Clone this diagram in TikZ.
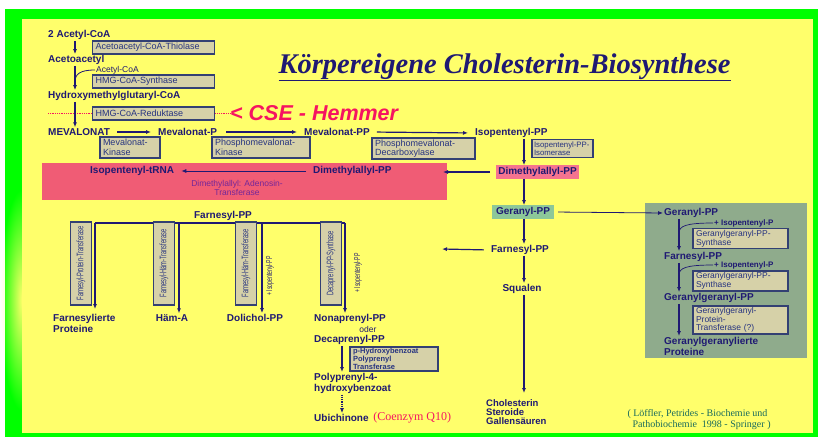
\documentclass[tikz,border=0pt]{standalone}
\usepackage{fontspec}
\usepackage{graphicx}
\setmainfont{Liberation Sans}
\newfontfamily\serifkopf{Liberation Serif}
\usetikzlibrary{arrows.meta, positioning, calc, fadings}
\definecolor{navy}{rgb}{0.12,0.1,0.45}
\definecolor{papiergelb}{rgb}{1,1,0.42}
\definecolor{rahmengruen}{rgb}{0,1,0}
\definecolor{enzfill}{rgb}{0.84,0.82,0.66}
\definecolor{enzrand}{rgb}{0.2,0.25,0.45}
\definecolor{enztext}{rgb}{0.15,0.2,0.5}
\definecolor{tRNArot}{rgb}{0.94,0.36,0.46}
\definecolor{dmapprot}{rgb}{0.96,0.45,0.56}
\definecolor{gppgruen}{rgb}{0.55,0.78,0.6}
\definecolor{feldgruen}{rgb}{0.56,0.67,0.55}
\definecolor{hemmrot}{rgb}{0.96,0.08,0.38}
\definecolor{transflila}{rgb}{0.45,0.15,0.6}
\definecolor{quellgruen}{rgb}{0.1,0.42,0.36}
\tikzfading[name=randfade, inner color=transparent!0, outer color=transparent!100]
\newcommand{\schmal}[1]{\scalebox{0.6}[1]{#1}}
\tikzset{
  mol/.style={font=\bfseries\fontsize{10}{11}\selectfont, text=navy, inner sep=1pt, align=left},
  klein/.style={font=\fontsize{8.5}{9}\selectfont, text=navy, inner sep=1pt},
  enz/.style={draw=enzrand, line width=1.2pt, fill=enzfill, text=enztext, font=\fontsize{9}{9.5}\selectfont, inner xsep=3pt, inner ysep=1.5pt, align=left},
  venz/.style={draw=enzrand, line width=1.2pt, fill=enzfill, text=enztext, rotate=90, font=\fontsize{9.5}{10}\selectfont, minimum width=83pt, minimum height=21pt, inner sep=0.5pt},
  vplus/.style={rotate=90, font=\fontsize{8.5}{8.5}\selectfont, text=navy, inner sep=0pt},
  pto/.style={-{Latex[length=5pt,width=4pt]}, line width=1.2pt, navy},
  alin/.style={line width=1.2pt, navy},
  hemm/.style={hemmrot, densely dotted, line width=0.8pt},
  hlrot/.style={mol, fill=dmapprot, inner sep=2pt},
  hlgruen/.style={mol, fill=gppgruen, inner xsep=4pt, inner ysep=2pt},
  titel/.style={font=\serifkopf\bfseries\itshape\fontsize{28.5}{30}\selectfont, text=navy},
  cse/.style={font=\bfseries\itshape\fontsize{21.5}{23}\selectfont, text=hemmrot, inner sep=0pt},
  quelle/.style={font=\serifkopf\fontsize{10}{10.5}\selectfont, text=quellgruen, align=left}
}

\begin{document}
\begin{tikzpicture}[x=1pt, y=-1pt]
  \useasboundingbox (0,0) rectangle (818,437);
  % Rahmen und Papier
  \fill[white] (0,0) rectangle (818,437);
  \fill[rahmengruen] (5,9) rectangle (818,437);
  \fill[papiergelb] (22,19) rectangle (813,433);
  \fill[papiergelb, path fading=randfade] (0,190) rectangle (44,410);

  \node[titel, anchor=base west] (titel) at (275,73) {\underline{Körpereigene Cholesterin-Biosynthese}};

  % Acetyl-CoA bis Mevalonat
  \coordinate (spalteA) at (75,0);
  \node[mol, anchor=west] (acetylcoa) at (47,35) {2 Acetyl-CoA};
  \node[enz, anchor=west, text width=116pt, minimum height=13pt] (thiolase) at (92,47.5) {Acetoacetyl-CoA-Thiolase};
  \node[mol, anchor=west] (acetoacetyl) at (47,60) {Acetoacetyl};
  \node[klein, anchor=west] (acetylcoazwei) at (95,70) {Acetyl-CoA};
  \node[enz, anchor=west, text width=116pt, minimum height=13pt] (hmgsynthase) at (92,81.5) {HMG-CoA-Synthase};
  \node[mol, anchor=west] (hmgcoa) at (47,96) {Hydroxymethylglutaryl-CoA};
  \node[cse, anchor=west] (csehemmer) at (230,113) {< CSE - Hemmer};
  \coordinate (hemmanfang) at (48,113);
  \draw[hemm] (hemmanfang) -- (csehemmer.west);
  \node[enz, anchor=west, text width=116pt, minimum height=13pt] (hmgreduktase) at (92,113.5) {HMG-CoA-Reduktase};
  \node[mol, anchor=west] (mevalonat) at (47,132) {MEVALONAT};

  \draw[pto] (acetylcoa.south -| spalteA) -- (acetoacetyl.north -| spalteA);
  \draw[pto] (acetoacetyl.south -| spalteA) -- (hmgcoa.north -| spalteA);
  \coordinate (astA) at (75,82);
  \draw[alin, line width=0.8pt] (astA) .. controls (75,74) and (80,70) .. (acetylcoazwei.west);
  \draw[pto] (hmgcoa.south -| spalteA) -- (mevalonat.north -| spalteA);

  % Mevalonat bis Isopentenyl-PP
  \node[mol, anchor=west] (mevp) at (157,132) {Mevalonat-P};
  \node[mol, anchor=west] (mevpp) at (303,132) {Mevalonat-PP};
  \node[mol, anchor=west] (ipp) at (474,133) {Isopentenyl-PP};
  \draw[pto, shorten <=6pt, shorten >=6pt] (mevalonat.east) -- (mevp.west);
  \draw[pto, shorten <=8pt, shorten >=6pt] (mevp.east) -- (mevpp.west);
  \draw[pto, shorten <=6pt, shorten >=6pt] (mevpp.east) -- (ipp.west);

  \node[enz, text width=54pt, minimum height=21pt] (mevkinase) at (130,147.5) {Mevalonat-\\Kinase};
  \node[enz, text width=92pt, minimum height=21pt] (pmkinase) at (261,147.5) {Phosphomevalonat-\\Kinase};
  \node[enz, text width=97pt, minimum height=18pt] (pmdecarb) at (423.5,148.5) {Phosphomevalonat-\\Decarboxylase};
  \node[enz, text width=57pt, inner xsep=2pt, minimum height=18pt, font=\fontsize{7.8}{8.5}\selectfont] (ippisomerase) at (562.5,148.5) {Isopentenyl-PP-\\Isomerase};

  % Isopentenyl-tRNA
  \fill[tRNArot] (42,163) rectangle (447,200);
  \node[mol, anchor=west] (isotrna) at (89,171) {Isopentenyl-tRNA};
  \node[mol, anchor=west] (dmappinnen) at (312,171) {Dimethylallyl-PP};
  \draw[pto, line width=0.8pt, shorten <=6pt, shorten >=6pt] (dmappinnen.west) -- (isotrna.east);
  \node[font=\fontsize{8.5}{9}\selectfont, text=transflila, align=center] (adenosin) at (237,188) {Dimethylallyl: Adenosin-\\Transferase};

  % Hauptweg zum Cholesterin
  \coordinate (spalteB) at (524,0);
  \node[hlrot] (dmapp) at (537.5,172) {Dimethylallyl-PP};
  \coordinate (balkenrand) at (443,172);
  \draw[pto] (ipp.south -| spalteB) -- (dmapp.north -| spalteB);
  \draw[pto, shorten <=6pt] (dmapp.west) -- (balkenrand);
  \node[hlgruen] (gpp) at (523,212) {Geranyl-PP};
  \draw[pto] (dmapp.south -| spalteB) -- (gpp.north -| spalteB);
  \node[mol] (fpp) at (520,250) {Farnesyl-PP};
  \draw[pto] (gpp.south -| spalteB) -- (fpp.north -| spalteB);
  \coordinate (fppziel) at (442,249);
  \draw[pto, shorten <=6pt] (fpp.west) -- (fppziel);
  \node[mol] (squalen) at (522,289) {Squalen};
  \draw[pto] (fpp.south -| spalteB) -- (squalen.north -| spalteB);
  \node[mol, anchor=north west, font=\bfseries\fontsize{9.5}{9}\selectfont] (cholesterin) at (485,398) {Cholesterin\\Steroide\\Gallensäuren};
  \draw[pto] (squalen.south -| spalteB) -- ([yshift=5pt]cholesterin.north -| spalteB);

  % Geranylgeranyl-Zweig
  \fill[feldgruen] (645,203) rectangle (807,358);
  \coordinate (spalteC) at (679,0);
  \node[mol, anchor=west] (rgpp) at (663,213) {Geranyl-PP};
  \draw[pto, line width=0.8pt, shorten <=4pt] (gpp.east) -- (rgpp.west);
  \node[mol, anchor=west, font=\bfseries\fontsize{8}{9}\selectfont] (ipeins) at (713,223) {+ Isopentenyl-P};
  \node[enz, text width=89pt, minimum height=17pt, font=\fontsize{8.5}{9}\selectfont] (ggsynthaseeins) at (740.5,238.5) {Geranylgeranyl-PP-\\Synthase};
  \node[mol, anchor=west] (rfpp) at (663,257) {Farnesyl-PP};
  \node[mol, anchor=west, font=\bfseries\fontsize{8}{9}\selectfont] (ipzwei) at (713,265) {+ Isopentenyl-P};
  \node[enz, text width=89pt, minimum height=18pt, font=\fontsize{8.5}{9}\selectfont] (ggsynthasezwei) at (740.5,281) {Geranylgeranyl-PP-\\Synthase};
  \node[mol, anchor=west] (rggpp) at (663,298) {Geranylgeranyl-PP};
  \node[enz, text width=89pt, minimum height=26pt, font=\fontsize{8.5}{8.5}\selectfont] (ggtransferase) at (740.5,320) {Geranylgeranyl-\\Protein-\\Transferase (?)};
  \node[mol, anchor=north west] (rproteine) at (663,336) {Geranylgeranylierte\\Proteine};
  \draw[pto] (rgpp.south -| spalteC) -- (rfpp.north -| spalteC);
  \draw[pto] (rfpp.south -| spalteC) -- (rggpp.north -| spalteC);
  \draw[pto] (rggpp.south -| spalteC) -- (rproteine.north -| spalteC);
  \coordinate (astReins) at (679,233);
  \coordinate (astRzwei) at (679,275);
  \draw[alin, line width=0.7pt] (astReins) .. controls (679,226) and (686,223) .. (ipeins.west);
  \draw[alin, line width=0.7pt] (astRzwei) .. controls (679,268) and (686,265) .. (ipzwei.west);

  % Farnesyl-PP Verzweigung
  \node[mol] (fpplinks) at (223,216) {Farnesyl-PP};
  \coordinate (zweigA) at (95,223);
  \coordinate (zweigB) at (179,223);
  \coordinate (zweigC) at (262,223);
  \coordinate (zweigD) at (345,223);
  \draw[alin] (zweigA) -- (zweigD);
  \node[venz] (fptransferase) at (81,263.5) {\schmal{Farnesyl-Protein-Transferase}};
  \node[venz] (fhtransferaseeins) at (164,263.5) {\schmal{Farnesyl-Häm-Transferase}};
  \node[venz] (fhtransferasezwei) at (246,263.5) {\schmal{Farnesyl-Häm-Transferase}};
  \node[venz] (dppsynthase) at (331,263.5) {\schmal{Decaprenyl-PP-Synthase}};
  \node[vplus] (plusipp) at (270,276) {\schmal{+ Isopentenyl-PP}};
  \node[vplus] (plusippzwei) at (358,273) {\schmal{+ Isopentenyl-PP}};

  \node[mol, anchor=north west] (farnprot) at (52,313) {Farnesylierte\\Proteine};
  \node[mol] (haema) at (172,318) {Häm-A};
  \node[mol] (dolichol) at (255,318) {Dolichol-PP};
  \node[mol, anchor=west] (nonapp) at (313,319) {Nonaprenyl-PP};
  \draw[pto] (zweigA) -- (zweigA |- 0,309);
  \draw[pto] (zweigB) -- (haema.north -| zweigB);
  \draw[pto] (zweigC) -- (dolichol.north -| zweigC);
  \draw[pto] (zweigD) -- (nonapp.north -| zweigD);

  % Ubichinon
  \coordinate (spalteD) at (342,0);
  \node[klein] (oder) at (368,329) {oder};
  \node[mol, anchor=west] (decapp) at (313,340) {Decaprenyl-PP};
  \node[enz, font=\bfseries\fontsize{7.5}{7.8}\selectfont, minimum height=24pt, text width=82pt] (phbtransferase) at (394,359) {p-Hydroxybenzoat\\Polyprenyl\\Transferase};
  \node[mol, anchor=north west] (polyprenyl) at (313,372) {Polyprenyl-4-\\hydroxybenzoat};
  \node[mol, anchor=west] (ubichinone) at (313,418) {Ubichinone};
  \node[font=\serifkopf\fontsize{12}{13}\selectfont, text=hemmrot, anchor=west] (coenzym) at (ubichinone.east) {(Coenzym Q10)};
  \draw[pto] (decapp.south -| spalteD) -- (polyprenyl.north -| spalteD);
  \draw[pto, densely dotted] (polyprenyl.south -| spalteD) -- (ubichinone.north -| spalteD);

  \node[quelle, anchor=north west] (quellenangabe) at (624,406) {( Löffler, Petrides - Biochemie und\\\ \ Pathobiochemie\ \ 1998 - Springer )};
\end{tikzpicture}
\end{document}
